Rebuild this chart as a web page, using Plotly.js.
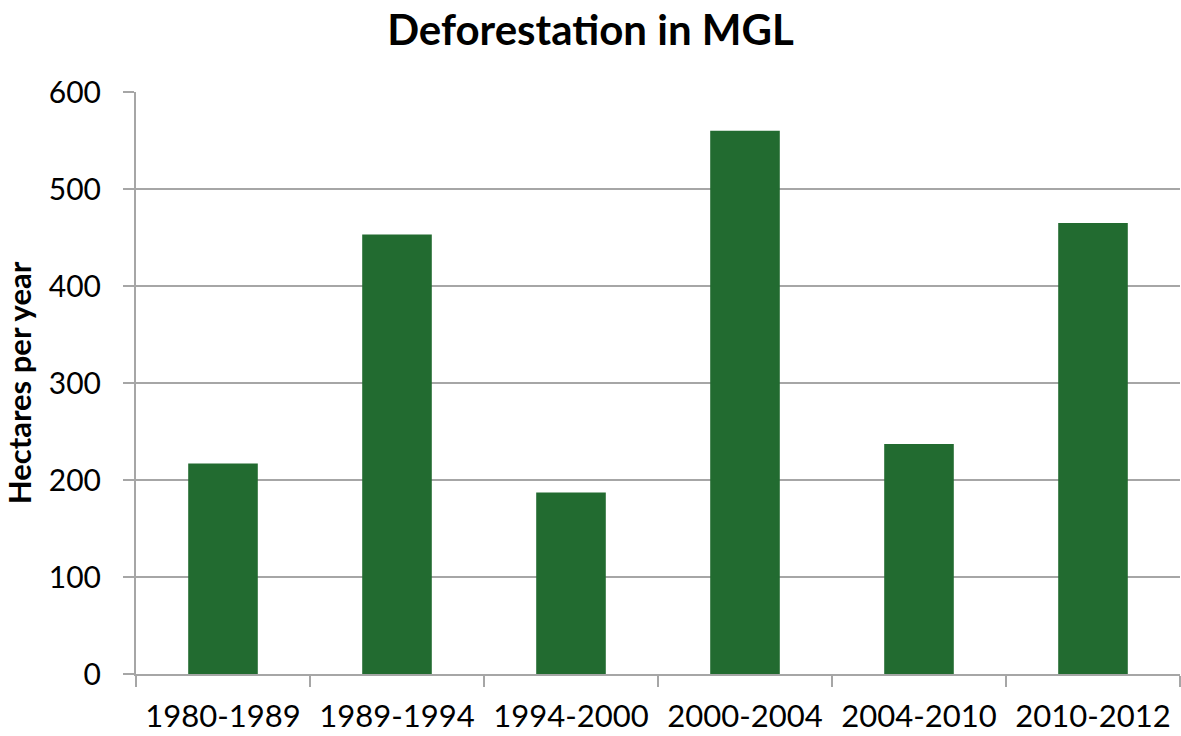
<!DOCTYPE html>
<html><head><meta charset="utf-8">
<script src="https://cdn.plot.ly/plotly-3.0.1.min.js"></script>
<style>html,body{margin:0;padding:0;background:#fff}</style>
</head><body>
<div id="chart" style="width:1181px;height:736px"></div>
<script>
const periods = ["1980-1989","1989-1994","1994-2000","2000-2004","2004-2010","2010-2012"];
const hectaresPerYear = [217, 453, 187, 560, 237, 465];
const yTicks = [0,100,200,300,400,500,600];

const gray = "#a6a6a6";
Plotly.newPlot("chart", [{
  type: "bar",
  x: periods,
  y: hectaresPerYear,
  marker: {color: "#226B30"},
  hoverinfo: "x+y"
}], {
  width: 1181, height: 736,
  margin: {l: 136, r: 1, t: 92, b: 62},
  paper_bgcolor: "#fff", plot_bgcolor: "#fff",
  bargap: 0.6,
  showlegend: false,
  font: {family: "Lato, 'Open Sans', sans-serif", color: "#000"},
  title: {text: "<b>Deforestation in MGL</b>", font: {size: 42, family: "Lato, sans-serif", color: "#000"},
          x: 0.5, xref: "container", xanchor: "center", y: 0.959, yref: "container", yanchor: "middle"},
  xaxis: {
    type: "category",
    tickson: "boundaries",
    ticks: "outside", ticklen: 11, tickwidth: 2, tickcolor: gray,
    showline: true, linecolor: gray, linewidth: 2,
    showgrid: false,
    tickfont: {size: 31, family: "Lato, sans-serif", color: "#000"},
    ticklabelstandoff: 14,
    fixedrange: true
  },
  yaxis: {
    range: [0, 600],
    tickvals: yTicks,
    ticktext: yTicks.map(String),
    ticks: "outside", ticklen: 11, tickwidth: 2, tickcolor: gray,
    showline: true, linecolor: gray, linewidth: 2,
    showgrid: true, gridcolor: gray, gridwidth: 2,
    zeroline: false,
    tickfont: {size: 30, family: "Lato, sans-serif", color: "#000"},
    ticklabelstandoff: 16,
    title: {text: "<b>Hectares per year</b>", font: {size: 31, family: "Lato, sans-serif", color: "#000"}, standoff: 14},
    fixedrange: true
  }
}, {displayModeBar: false, staticPlot: true});
</script>
</body></html>
